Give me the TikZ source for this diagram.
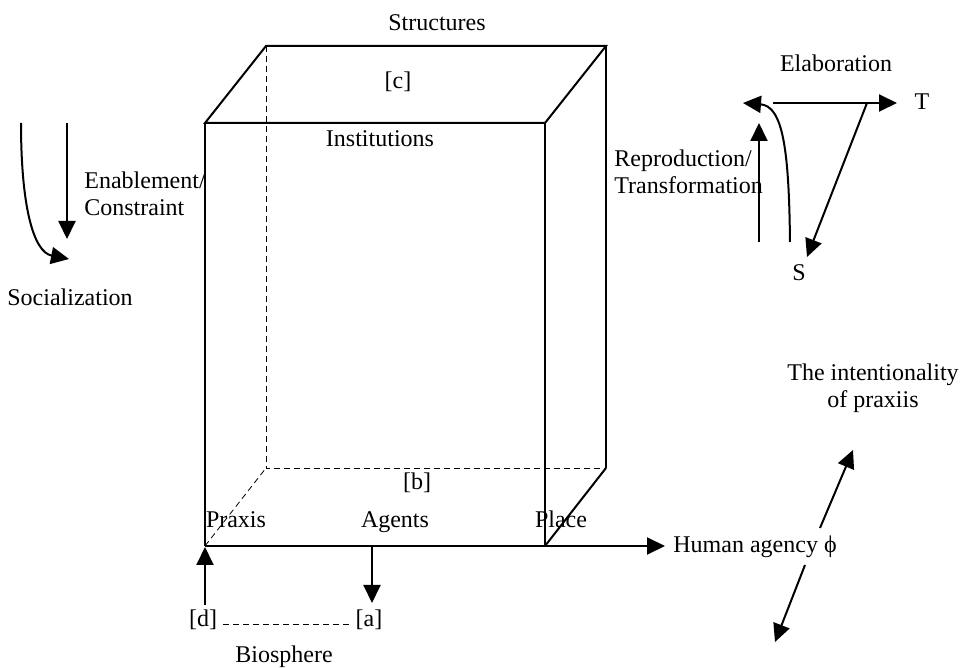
\documentclass[tikz,border=0pt]{standalone}
\usepackage{fontspec}
\setmainfont{Liberation Serif}
\usetikzlibrary{arrows.meta}
\tikzset{
  edge/.style={line width=1pt},
  hidden/.style={line width=0.4pt, densely dashed},
  arr/.style={line width=1pt, -{Triangle[length=9pt,width=8.5pt]}},
  lbl/.style={inner sep=0pt, font=\fontsize{12pt}{13.5pt}\selectfont}
}
\begin{document}
\begin{tikzpicture}[x=0.5pt,y=-0.5pt]
    \useasboundingbox (0,0) rectangle (960,668);
    % corners of the box
    \coordinate (fTL) at (205,123);
    \coordinate (fTR) at (545,123);
    \coordinate (fBL) at (205,546);
    \coordinate (fBR) at (545,546);
    \coordinate (bTL) at (266,46);
    \coordinate (bTR) at (606,46);
    \coordinate (bBL) at (266,468);
    \coordinate (bBR) at (606,468);

    % hidden edges
    \draw[hidden] (bTL) -- (bBL) -- (bBR);
    \draw[hidden] (fBL) -- (bBL);

    % top face and front face
    \draw[edge] (fTL) -- (bTL) -- (bTR) -- (fTR) -- cycle;
    \draw[edge] (fTL) -- (fBL);
    \draw[edge] (fTR) -- (fBR);
    \draw[line width=0.6pt] (bTR) -- (bBR);
    \draw[edge] (bBR) -- (fBR);

    % labels of the box
    \node[lbl] (struct) at (437,23) {Structures};
    \node[lbl] (c) at (398,82) {[c]};
    \node[lbl] (inst) at (380,139) {Institutions};
    \node[lbl] (b) at (417,483) {[b]};
    \node[lbl, anchor=base] (praxis) at (236,528) {Praxis};
    \node[lbl, anchor=base] (agents) at (395,528) {Agents};
    \node[lbl, anchor=base] (place) at (561,528) {Place};

    % human agency axis
    \node[lbl, anchor=west] (agency) at (673,547) {Human agency ϕ};
    \coordinate (axisEnd) at (665,546);
    \draw[arr] (fBL) -- (axisEnd);

    % biosphere
    \node[lbl] (d) at (203,620) {[d]};
    \node[lbl] (a) at (369,620) {[a]};
    \node[lbl] (bio) at (284,657) {Biosphere};
    \coordinate (agTop) at (372,546);
    \coordinate (agTip) at (372,603);
    \coordinate (dBot) at (205,605);
    \coordinate (dTip) at (205,547);
    \draw[arr] (agTop) -- (agTip);
    \draw[arr] (dBot) -- (dTip);
    \draw[hidden, shorten <=3pt, shorten >=1pt] ([yshift=-2pt]d.east) -- ([yshift=-2pt]a.west);

    % enablement and socialization
    \node[lbl, anchor=west, align=left] (enable) at (84,194) {Enablement/\\Constraint};
    \node[lbl] (social) at (70,297) {Socialization};
    \coordinate (enTop) at (67,123);
    \coordinate (enTip) at (67,239);
    \coordinate (soTop) at (21,123);
    \coordinate (soTip) at (69,259);
    \draw[arr] (enTop) -- (enTip);
    \draw[arr] (soTop) .. controls (21,205) and (33,252) .. (soTip);

    % elaboration cycle
    \node[lbl] (elab) at (836,63) {Elaboration};
    \node[lbl] (T) at (922,102) {T};
    \node[lbl] (S) at (799,273) {S};
    \node[lbl, anchor=west, align=left] (repro) at (614,172) {Reproduction/\\Transformation};
    \coordinate (tStart) at (773,103);
    \coordinate (tTip) at (897,103);
    \coordinate (sStart) at (867,103);
    \coordinate (sTip) at (807,257);
    \coordinate (upBot) at (759,242);
    \coordinate (upTip) at (759,123);
    \coordinate (cvBot) at (790,242);
    \coordinate (cvTip) at (743,103);
    \draw[arr] (tStart) -- (tTip);
    \draw[arr] (sStart) -- (sTip);
    \draw[arr] (upBot) -- (upTip);
    \draw[arr] (cvBot) .. controls (789,150) and (783,106) .. (cvTip);

    % intentionality
    \node[lbl, align=center] (intent) at (873,388) {The intentionality\\of praxiis};
    \coordinate (iuStart) at (820,528);
    \coordinate (iuTip) at (853,450);
    \coordinate (idStart) at (805,565);
    \coordinate (idTip) at (775,642);
    \draw[arr] (iuStart) -- (iuTip);
    \draw[arr] (idStart) -- (idTip);
\end{tikzpicture}
\end{document}
